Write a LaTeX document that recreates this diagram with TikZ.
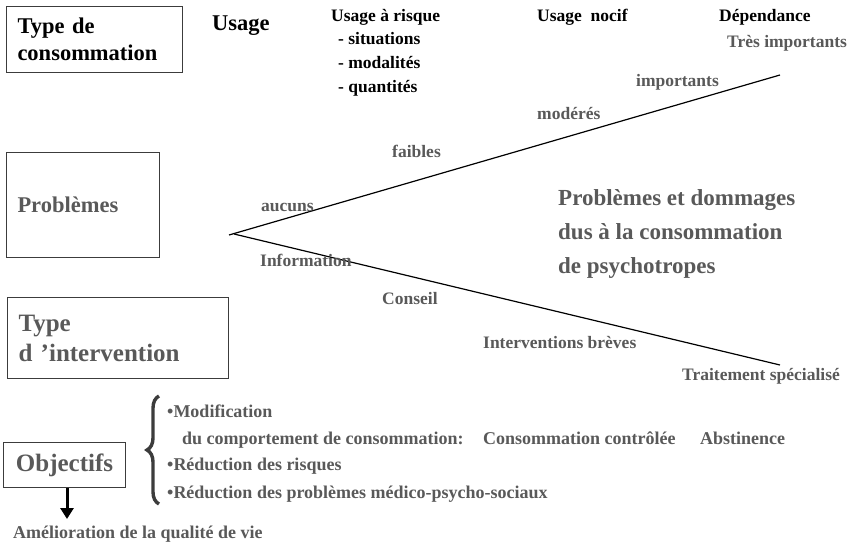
\documentclass[tikz,border=0pt]{standalone}
\usepackage{fontspec}
\setmainfont{Liberation Serif}
\usetikzlibrary{%
    arrows.meta,
    positioning,
    decorations.pathreplacing
    }
\definecolor{mygray1}{RGB}{89,89,89}
\definecolor{mygray2}{RGB}{60,60,60}
\tikzset{
  framebox/.style={
    rectangle,
    draw=mygray2,
    line width=1pt,
    inner xsep=11pt,
    inner ysep=0pt,
    align=left,
    anchor=north west,
    font=\bfseries\fontsize{22.5}{27}\selectfont,
  },
  headtext/.style={
    anchor=base west,
    inner sep=0pt,
    font=\bfseries\fontsize{17.5}{21}\selectfont,
  },
  leveltext/.style={
    headtext,
    text=mygray1,
  },
  goaltext/.style={
    anchor=base west,
    inner sep=0pt,
    text=mygray1,
    font=\bfseries\fontsize{18}{21}\selectfont,
  },
  branch/.style={
    line width=1.2pt,
    black
  },
  bigarrow/.style={
    -{Triangle[width=13pt,length=11pt]},
    line width=3pt,
    black
  },
  curly/.style={
    decorate,
    decoration={brace,amplitude=12pt},
    line width=3.4pt,
    mygray2
  },
}

\begin{document}
\begin{tikzpicture}[x=1pt,y=-1pt]
\useasboundingbox (0,0) rectangle (851,545);

% left hand boxes
\node[framebox,text width=154pt,minimum height=66pt]
  (typecons) at (6,6)
  {Type de\\consommation};
\node[framebox,text width=131pt,minimum height=105pt,text=mygray1]
  (problems) at (6,152)
  {Problèmes};
\node[framebox,text width=199pt,minimum height=81pt,text=mygray1,
  font=\bfseries\fontsize{25}{30}\selectfont]
  (intervtype) at (7,297)
  {Type\\d ’intervention};
\node[framebox,text width=100pt,minimum height=45pt,align=center,text=mygray1,
  font=\bfseries\fontsize{25}{30}\selectfont]
  (goals) at (3,442)
  {Objectifs};

% kinds of use
\node[headtext,font=\bfseries\fontsize{22.5}{26}\selectfont]
  (usage) at (212,31) {Usage};
\node[headtext] (riskuse) at (331,22) {Usage à risque};
\node[headtext] (riska) at (338,45) {- situations};
\node[headtext] (riskb) at (338,69) {- modalités};
\node[headtext] (riskc) at (338,93) {- quantités};
\node[headtext] (harmful) at (537,22) {Usage~~nocif};
\node[headtext] (dependence) at (719,22) {Dépendance};

% the two branches
\coordinate (apex) at (229,235);
\coordinate (topend) at (780,75);
\coordinate (lowstart) at (234,234);
\coordinate (lowend) at (780,365);
\draw[branch] (apex) -- (topend);
\draw[branch] (lowstart) -- (lowend);

% level of problems
\node[leveltext] (lvlvery) at (727,48) {Très importants};
\node[leveltext] (lvlhigh) at (636,87) {importants};
\node[leveltext] (lvlmod) at (537,120) {modérés};
\node[leveltext] (lvllow) at (392,158) {faibles};
\node[leveltext] (lvlnone) at (261,212) {aucuns};

% kind of intervention
\node[leveltext] (intinfo) at (260,267) {Information};
\node[leveltext] (intadvice) at (382,305) {Conseil};
\node[leveltext] (intbrief) at (483,348) {Interventions brèves};
\node[leveltext] (inttreat) at (682,380) {Traitement spécialisé};

\node[anchor=west,inner sep=0pt,align=left,text=mygray1,
  font=\bfseries\fontsize{23}{34}\selectfont]
  (damages) at (558,234)
  {Problèmes et dommages\\dus à la consommation\\de psychotropes};

% goals
\coordinate (bracetop) at (159,396);
\coordinate (bracebot) at (159,504);
\draw[curly] (bracebot) -- (bracetop);
\node[goaltext] (goalmod) at (167,417) {•Modification};
\node[goaltext] (goalmodb) at (182,444) {du comportement de consommation:};
\node[goaltext] (goalctrl) at (483,444) {Consommation contrôlée};
\node[goaltext] (goalabst) at (700,444) {Abstinence};
\node[goaltext] (goalrisk) at (167,470) {•Réduction des risques};
\node[goaltext] (goalprob) at (167,498) {•Réduction des problèmes médico-psycho-sociaux};
\node[goaltext] (quality) at (13,538) {Amélioration de la qualité de vie};

\coordinate (arrowtip) at (67,519);
\draw[bigarrow] (goals.south -| arrowtip) -- (arrowtip);
\end{tikzpicture}
\end{document}
